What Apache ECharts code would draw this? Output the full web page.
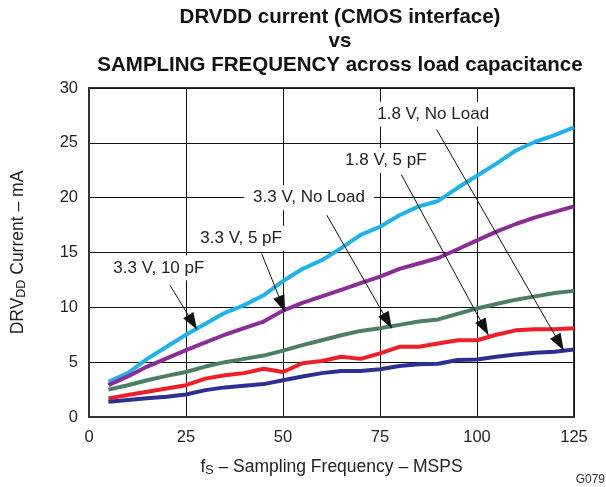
<!DOCTYPE html>
<html>
<head>
<meta charset="utf-8">
<script src="https://cdn.jsdelivr.net/npm/echarts@6/dist/echarts.min.js"></script>
<style>
  html, body { margin: 0; padding: 0; background: #fff; }
  #chart { width: 606px; height: 487px; }
</style>
</head>
<body>
<div id="chart"></div>
<script>
// sampling frequency, MSPS
const freq = [5, 10, 15, 20, 25, 30, 35, 40, 45, 50, 55, 60, 65, 70, 75, 80, 85, 90, 95, 100, 105, 110, 115, 120, 125]

// DRVDD current, mA
const v33_10pF = [3.2, 4.0, 5.3, 6.4, 7.5, 8.5, 9.5, 10.2, 11.1, 12.4, 13.5, 14.3, 15.4, 16.6, 17.35, 18.4, 19.2, 19.7, 20.9, 22.0, 23.1, 24.3, 25.1, 25.7, 26.4]
const v33_5pF = [2.9, 3.7, 4.6, 5.35, 6.1, 6.8, 7.5, 8.1, 8.7, 9.7, 10.4, 11.0, 11.6, 12.2, 12.8, 13.5, 14.0, 14.5, 15.3, 16.1, 16.9, 17.6, 18.2, 18.7, 19.2]
const v33_noLoad = [2.5, 2.9, 3.35, 3.75, 4.1, 4.6, 5.0, 5.3, 5.6, 6.05, 6.55, 7.0, 7.45, 7.85, 8.1, 8.4, 8.7, 8.9, 9.4, 9.9, 10.3, 10.7, 11.0, 11.3, 11.5]
const v18_5pF = [1.7, 2.0, 2.3, 2.6, 2.9, 3.5, 3.8, 4.0, 4.4, 4.1, 4.9, 5.1, 5.5, 5.3, 5.8, 6.4, 6.4, 6.7, 7.0, 7.0, 7.5, 7.9, 8.0, 8.0, 8.1]
const v18_noLoad = [1.4, 1.55, 1.7, 1.85, 2.05, 2.45, 2.7, 2.85, 3.0, 3.35, 3.7, 4.0, 4.2, 4.2, 4.35, 4.65, 4.8, 4.85, 5.2, 5.25, 5.5, 5.7, 5.85, 5.95, 6.15]

const xTicks = [0, 25, 50, 75, 100, 125]
const yTicks = [0, 5, 10, 15, 20, 25, 30]

// 标注：文字位置、箭头起点、箭头终点（数据坐标）
const noteText = ['1.8 V, No Load', '1.8 V, 5 pF', '3.3 V, No Load', '3.3 V, 5 pF', '3.3 V, 10 pF']
const notePos = [[88.7, 27.6], [76.5, 23.4], [56.7, 20.0], [39.2, 16.3], [18.0, 13.6]]
const arrowFrom = [[89.6, 26.2], [80.5, 22.1], [61.3, 18.4], [44.5, 14.9], [20.9, 12.0]]
const arrowTo = [[122.3, 6.1], [102.9, 7.5], [78.0, 8.1], [50.5, 9.6], [27.8, 8.0]]

const font = "'Liberation Sans', Arial, sans-serif"

const pairs = ys => freq.map((x, i) => [x, ys[i]])

const mkSeries = (name, ys, color) => ({
  name,
  type: 'line',
  data: pairs(ys),
  showSymbol: false,
  symbol: 'none',
  lineStyle: { color, width: 4 },
  itemStyle: { color },
  silent: true
})

const series = [
  mkSeries('3.3 V, 10 pF', v33_10pF, '#1db3ea'),
  mkSeries('3.3 V, 5 pF', v33_5pF, '#8a2d96'),
  mkSeries('3.3 V, No Load', v33_noLoad, '#4b7f63'),
  mkSeries('1.8 V, 5 pF', v18_5pF, '#ee1f26'),
  mkSeries('1.8 V, No Load', v18_noLoad, '#2b3192')
]

// 标注挂在单独的空系列上
series.push({
  type: 'line',
  data: [],
  silent: true,
  markLine: {
    silent: true,
    animation: false,
    symbol: ['none', 'triangle'],
    symbolSize: [12, 17],
    symbolOffset: [[0, 0], [0, 8]],
    lineStyle: { color: '#111', width: 1, type: 'solid' },
    itemStyle: { color: '#111' },
    label: { show: false },
    data: arrowFrom.map((p, i) => [{ coord: p }, { coord: arrowTo[i] }])
  },
  markPoint: {
    silent: true,
    animation: false,
    symbol: 'rect',
    symbolSize: 1,
    itemStyle: { color: 'rgba(0,0,0,0)' },
    label: {
      show: true,
      position: 'inside',
      color: '#222',
      fontFamily: font,
      fontSize: 17,
      backgroundColor: '#fff',
      padding: [4, 9]
    },
    data: notePos.map((p, i) => ({ coord: p, value: noteText[i], label: { formatter: noteText[i] } }))
  }
})

const chart = echarts.init(document.getElementById('chart'))
chart.setOption({
  animation: false,
  backgroundColor: '#fff',
  textStyle: { fontFamily: font },
  title: {
    text: 'DRVDD current (CMOS interface)\nvs\nSAMPLING FREQUENCY across load capacitance',
    left: 335,
    top: 0,
    textAlign: 'center',
    textStyle: { fontFamily: font, fontSize: 20.5, fontWeight: 'bold', color: '#111', lineHeight: 24 }
  },
  graphic: [{
    type: 'text',
    right: 1,
    bottom: 1,
    style: { text: 'G079', fontFamily: font, fontSize: 12, fill: '#333' }
  }],
  grid: {
    left: 89, right: 32, top: 88, bottom: 70,
    show: true, borderColor: '#333', borderWidth: 2
  },
  xAxis: {
    type: 'value',
    min: xTicks[0],
    max: xTicks[xTicks.length - 1],
    interval: 25,
    axisLine: { show: true, lineStyle: { color: '#333', width: 2 } },
    axisTick: { show: false },
    axisLabel: { color: '#222', fontSize: 16.5, margin: 12, fontFamily: font },
    splitLine: { lineStyle: { color: '#111', width: 1 } },
    name: '{n|f}{s|S}{n| – Sampling Frequency – MSPS}',
    nameLocation: 'middle',
    nameGap: 40,
    nameTextStyle: {
      rich: {
        n: { fontSize: 17.5, color: '#222', fontFamily: font },
        s: { fontSize: 12.5, color: '#222', fontFamily: font, verticalAlign: 'bottom', padding: [7, 0, 0, 0] }
      }
    }
  },
  yAxis: {
    type: 'value',
    min: yTicks[0],
    max: yTicks[yTicks.length - 1],
    interval: 5,
    axisLine: { show: true, lineStyle: { color: '#333', width: 2 } },
    axisTick: { show: false },
    axisLabel: { color: '#222', fontSize: 16.5, margin: 11, fontFamily: font },
    splitLine: { lineStyle: { color: '#111', width: 1 } },
    name: '{n|DRV}{s|DD}{n| Current – mA}',
    nameLocation: 'middle',
    nameGap: 61,
    nameTextStyle: {
      rich: {
        n: { fontSize: 17.5, color: '#222', fontFamily: font },
        s: { fontSize: 12.5, color: '#222', fontFamily: font, verticalAlign: 'bottom', padding: [7, 0, 0, 0] }
      }
    }
  },
  series
})
</script>
</body>
</html>
